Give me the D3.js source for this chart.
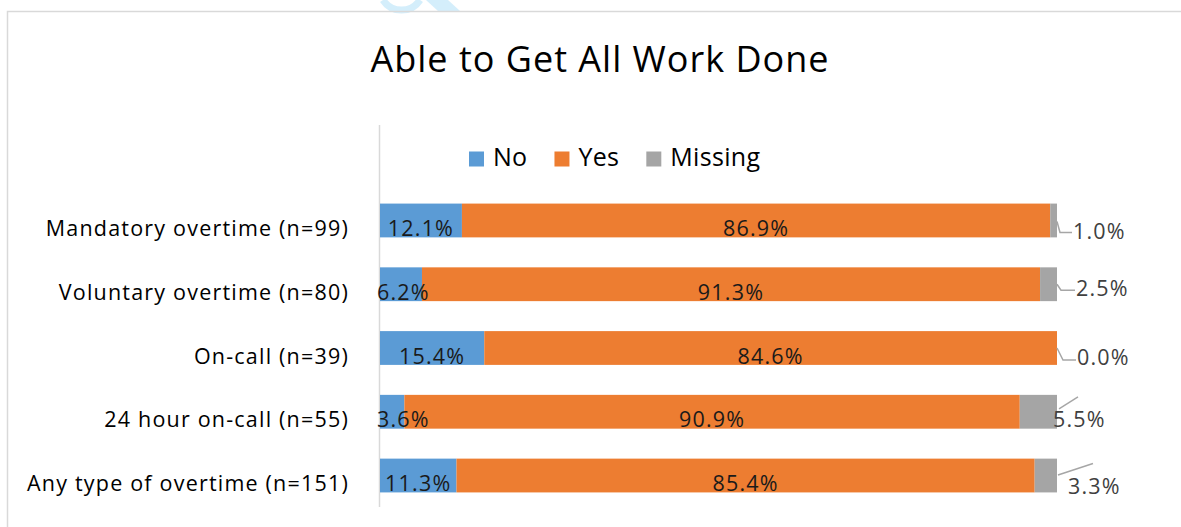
<!DOCTYPE html>
<html>
<head>
<meta charset="utf-8">
<script src="https://cdn.jsdelivr.net/npm/d3@7"></script>
<style>
  body { margin: 0; background: #fff; }
  svg { display: block; font-family: "Open Sans", "Noto Sans", sans-serif; }
</style>
</head>
<body>
<div id="chart"></div>
<script>
const categories = [
  "Mandatory overtime (n=99)",
  "Voluntary overtime (n=80)",
  "On-call (n=39)",
  "24 hour on-call (n=55)",
  "Any type of overtime (n=151)"
];
const seriesNames = ["No", "Yes", "Missing"];
const noValues = [12.1, 6.2, 15.4, 3.6, 11.3];
const yesValues = [86.9, 91.3, 84.6, 90.9, 85.4];
const missingValues = [1.0, 2.5, 0.0, 5.5, 3.3];
const colors = ["#5b9bd5", "#ed7d31", "#a5a5a5"];

// where the "Missing" labels were dragged to, relative to bar end / bar middle
const leaderPoints = [
  [[0, 1], [3, 12], [15, 12]],
  [[0, 0], [4, 6], [18, 6]],
  [[0, 0], [6, 12], [19, 12]],
  [[2, -3], [21, -15]],
  [[1, -0.5], [36, -12]]
];
const leaderLabel = [[16, 18.5], [19, 12], [20, 17], [-4, 15], [11, 18]];

const width = 1181, height = 527;
const fontSize = 21.5;
const spacing = 1.2;

const rows = categories.map((c, i) => ({
  cat: c, vals: [noValues[i], yesValues[i], missingValues[i]]
}));

const svg = d3.select("#chart").append("svg")
  .attr("width", width)
  .attr("height", height);

svg.append("rect").attr("width", width).attr("height", height).attr("fill", "#fff");

// faint watermark bit at the top
svg.append("path")
  .attr("d", "M383,0 A22,22 0 0 0 420,0")
  .attr("fill", "none").attr("stroke", "#d4eefb").attr("stroke-width", 7);
svg.append("path")
  .attr("d", "M426,0 L438,11 L460,11 L448,0 Z")
  .attr("fill", "#d4eefb");

// chart border
svg.append("rect")
  .attr("x", 7.5).attr("y", 11.5)
  .attr("width", width).attr("height", height)
  .attr("fill", "none")
  .attr("stroke", "#d9d9d9")
  .attr("stroke-width", 1.5);

svg.append("text")
  .attr("x", 600).attr("y", 72)
  .attr("text-anchor", "middle")
  .attr("font-size", 36)
  .attr("letter-spacing", 1)
  .attr("fill", "#000")
  .text("Able to Get All Work Done");

const x = d3.scaleLinear().domain([0, 100]).range([380, 1057]);
const y = d3.scaleBand().domain(categories)
  .range([188.6, 507.4])
  .paddingInner(0.47)
  .paddingOuter(0.235);

// axis line
svg.append("line")
  .attr("x1", 379.5).attr("x2", 379.5)
  .attr("y1", 125).attr("y2", 507)
  .attr("stroke", "#d9d9d9").attr("stroke-width", 1.5);

// category labels
svg.selectAll(".cat")
  .data(categories)
  .enter()
  .append("text")
  .attr("class", "cat")
  .attr("x", 349)
  .attr("y", d => y(d) + y.bandwidth() / 2 + 15.5)
  .attr("text-anchor", "end")
  .attr("font-size", fontSize)
  .attr("letter-spacing", spacing)
  .attr("fill", "#000")
  .text(d => d);

const stacked = d3.stack().keys([0, 1, 2])(rows.map(r => r.vals));

const groups = svg.selectAll(".series")
  .data(stacked)
  .enter()
  .append("g")
  .attr("class", "series")
  .attr("fill", (d, i) => colors[i]);

groups.selectAll("rect")
  .data(d => d)
  .enter()
  .append("rect")
  .attr("x", d => x(d[0]))
  .attr("y", (d, i) => y(categories[i]))
  .attr("width", d => x(d[1]) - x(d[0]))
  .attr("height", y.bandwidth());

// labels inside bars for No and Yes
stacked.slice(0, 2).forEach(s => {
  s.forEach((d, i) => {
    const t = svg.append("text")
      .attr("y", y(categories[i]) + y.bandwidth() / 2 + 15.5)
      .attr("text-anchor", "middle")
      .attr("font-size", fontSize)
      .attr("letter-spacing", spacing)
      .attr("fill", "#1a1a1a")
      .text(d3.format(".1f")(d[1] - d[0]) + "%");
    const w = t.node().getComputedTextLength();
    let cx = (x(d[0]) + x(d[1])) / 2;
    cx = Math.max(cx, x(0) + w / 2 - 3);
    t.attr("x", cx);
  });
});

// Missing labels with leader lines
const line = d3.line();
rows.forEach((r, i) => {
  const x0 = x(100), y0 = y(r.cat) + y.bandwidth() / 2;
  svg.append("path")
    .attr("d", line(leaderPoints[i].map(p => [x0 + p[0], y0 + p[1]])))
    .attr("fill", "none")
    .attr("stroke", "#a6a6a6")
    .attr("stroke-width", 1.5);
  svg.append("text")
    .attr("x", x0 + leaderLabel[i][0])
    .attr("y", y0 + leaderLabel[i][1])
    .attr("font-size", fontSize)
    .attr("letter-spacing", spacing)
    .attr("fill", "#404040")
    .text(d3.format(".1f")(r.vals[2]) + "%");
});

// legend
let lx = 469;
seriesNames.forEach((name, i) => {
  svg.append("rect")
    .attr("x", lx).attr("y", 151.5)
    .attr("width", 15).attr("height", 15)
    .attr("fill", colors[i]);
  const t = svg.append("text")
    .attr("x", lx + 24).attr("y", 166)
    .attr("font-size", 25)
    .attr("letter-spacing", 0.3)
    .attr("fill", "#000")
    .text(name);
  lx += 24 + t.node().getComputedTextLength() + 27;
});
</script>
</body>
</html>
